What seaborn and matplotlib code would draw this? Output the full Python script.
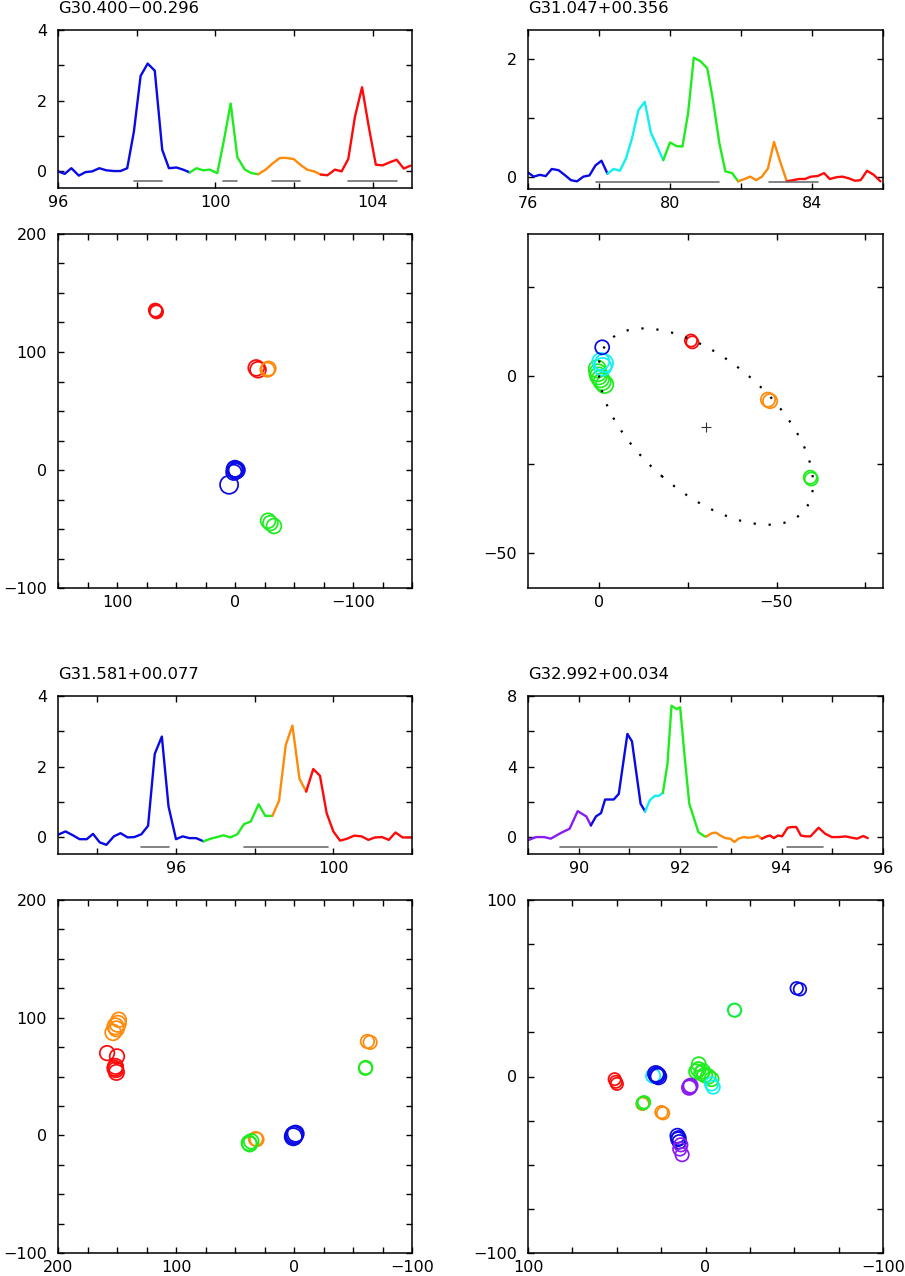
import matplotlib
matplotlib.use("Agg")
import numpy as np
import pandas as pd
import matplotlib.pyplot as plt
import seaborn as sns
from matplotlib.patches import Ellipse
from matplotlib.ticker import MultipleLocator

# ---------------- colours of the velocity components ----------------
COLORS = {'purple': '#8a1cf0', 'blue': '#0a0ae6', 'cyan': '#10f0f0',
          'green': '#1eec1e', 'orange': '#ff8a0a', 'red': '#ff0a0a'}

# ---------------- G30.400-00.296 ----------------
A_NAME = 'G30.400\u221200.296'
A_BLUE_V = [96.00, 96.17, 96.34, 96.53, 96.70, 96.87, 97.05, 97.23, 97.42, 97.59,
            97.76, 97.93, 98.10, 98.28, 98.46, 98.65, 98.82, 99.01, 99.18, 99.35]
A_BLUE_T = [0.00, -0.07, 0.09, -0.12, -0.02, 0.00, 0.09, 0.03, 0.01, 0.01,
            0.09, 1.13, 2.70, 3.05, 2.85, 0.61, 0.09, 0.11, 0.05, -0.03]
A_GREEN_V = [99.35, 99.52, 99.69, 99.86, 100.05, 100.22, 100.39, 100.56, 100.75, 100.92, 101.09]
A_GREEN_T = [-0.03, 0.09, 0.03, 0.05, -0.05, 0.89, 1.92, 0.40, 0.05, -0.05, -0.08]
A_ORANGE_V = [101.09, 101.28, 101.45, 101.64, 101.81, 101.99, 102.16, 102.33, 102.51, 102.68]
A_ORANGE_T = [-0.08, 0.05, 0.22, 0.38, 0.38, 0.35, 0.19, 0.05, 0.00, -0.09]
A_RED_V = [102.68, 102.85, 103.04, 103.21, 103.38, 103.55, 103.73, 103.90, 104.08,
           104.25, 104.44, 104.61, 104.79, 104.96]
A_RED_T = [-0.09, -0.11, 0.05, 0.00, 0.35, 1.55, 2.38, 1.27, 0.19, 0.17, 0.26, 0.33, 0.08, 0.16]
A_BARS = [(97.93, 98.65), (100.20, 100.56), (101.45, 102.16), (103.38, 104.61)]

A_SPOT_X = [67.5, 66.5, 67.0, -18.0, -19.5, -28.5, -27.5, 0.0, -1.5, -0.5, 0.5, 1.0, 5.0, -28.0, -30.0, -33.0]
A_SPOT_Y = [135.5, 134.0, 134.8, 86.5, 85.0, 86.0, 85.0, 1.0, 0.0, -1.0, 0.5, -2.0, -12.5, -43.0, -45.0, -47.5]
A_SPOT_C = ['red', 'red', 'red', 'red', 'red', 'orange', 'orange', 'blue', 'blue', 'blue', 'blue',
            'blue', 'blue', 'green', 'green', 'green']
A_SPOT_F = [1.0, 1.0, 0.9, 2.0, 2.0, 1.4, 1.4, 2.2, 2.2, 2.0, 2.0, 1.8, 3.0, 1.6, 1.6, 1.6]

# ---------------- G31.047+00.356 ----------------
B_NAME = 'G31.047+00.356'
B_BLUE_V = [76.00, 76.16, 76.33, 76.50, 76.67, 76.86, 77.03, 77.21, 77.38, 77.56, 77.73, 77.90, 78.07, 78.24]
B_BLUE_T = [0.08, 0.01, 0.04, 0.02, 0.14, 0.12, 0.04, -0.05, -0.07, 0.01, 0.03, 0.20, 0.28, 0.06]
B_CYAN_V = [78.24, 78.41, 78.59, 78.76, 78.93, 79.11, 79.29, 79.46, 79.64, 79.81]
B_CYAN_T = [0.06, 0.14, 0.11, 0.32, 0.66, 1.14, 1.28, 0.76, 0.52, 0.29]
B_GREEN_V = [79.81, 80.00, 80.18, 80.35, 80.51, 80.67, 80.86, 81.05, 81.21, 81.39, 81.56, 81.75, 81.92]
B_GREEN_T = [0.29, 0.59, 0.53, 0.52, 1.09, 2.03, 1.97, 1.85, 1.31, 0.58, 0.10, 0.07, -0.07]
B_ORANGE_V = [81.92, 82.10, 82.26, 82.43, 82.59, 82.76, 82.93, 83.10, 83.29]
B_ORANGE_T = [-0.07, -0.03, 0.01, -0.05, 0.01, 0.15, 0.60, 0.27, -0.07]
B_RED_V = [83.29, 83.46, 83.64, 83.80, 83.97, 84.16, 84.34, 84.50, 84.69, 84.86,
           85.04, 85.21, 85.37, 85.55, 85.74, 85.93]
B_RED_T = [-0.07, -0.05, -0.03, -0.03, 0.01, 0.02, 0.07, -0.03, 0.00, 0.01,
           -0.02, -0.06, -0.05, 0.11, 0.04, -0.07]
B_BARS = [(77.92, 81.37), (82.78, 84.16)]

B_SPOT_X = [-25.9, -26.3, 0.5, 0.3, 0.1, -0.4, -0.9, -1.6, -1.4, -1.0, -0.5, -0.9,
            -47.6, -48.2, -59.5, -59.8]
B_SPOT_Y = [9.9, 9.4, 1.9, 0.8, -0.1, -0.9, -1.7, -2.5, 3.5, 2.5, 4.0, 8.0,
            -6.8, -7.2, -28.7, -29.2]
B_SPOT_C = ['red', 'red', 'green', 'green', 'green', 'green', 'green', 'green',
            'cyan', 'cyan', 'cyan', 'blue', 'orange', 'orange', 'green', 'green']
B_SPOT_F = [0.7, 0.7, 2.6, 2.6, 2.6, 2.6, 2.6, 2.6, 3.0, 2.8, 2.5, 1.3, 1.4, 1.4, 1.0, 1.0]
# fitted ring: centre, full axes and position angle
B_RING_CENTER = (-30.1, -14.4)
B_RING_MAJOR = 73.0
B_RING_MINOR = 37.4
B_RING_ANGLE = 40.8

# ---------------- G31.581+00.077 ----------------
C_NAME = 'G31.581+00.077'
C_BLUE_V = [93.01, 93.19, 93.38, 93.55, 93.73, 93.89, 94.06, 94.23, 94.42, 94.59, 94.77,
            94.94, 95.12, 95.29, 95.46, 95.64, 95.81, 96.00, 96.17, 96.34, 96.51, 96.70]
C_BLUE_T = [0.07, 0.16, 0.05, -0.06, -0.06, 0.09, -0.15, -0.22, 0.02, 0.11, -0.01,
            0.00, 0.08, 0.32, 2.36, 2.85, 0.87, -0.06, 0.02, -0.03, -0.03, -0.12]
C_GREEN_V = [96.70, 96.87, 97.04, 97.21, 97.38, 97.56, 97.73, 97.90, 98.10, 98.27, 98.45]
C_GREEN_T = [-0.12, -0.05, 0.00, 0.05, -0.01, 0.08, 0.37, 0.44, 0.93, 0.60, 0.60]
C_ORANGE_V = [98.45, 98.62, 98.79, 98.96, 99.14, 99.31]
C_ORANGE_T = [0.60, 1.03, 2.61, 3.16, 1.65, 1.29]
C_RED_V = [99.31, 99.49, 99.66, 99.83, 100.00, 100.17, 100.34, 100.53, 100.72, 100.89,
           101.06, 101.24, 101.41, 101.58, 101.76, 102.00]
C_RED_T = [1.29, 1.93, 1.74, 0.68, 0.16, -0.10, -0.05, 0.04, 0.02, -0.08,
           -0.01, 0.00, -0.08, 0.13, -0.01, -0.01]
C_BARS = [(95.12, 95.81), (97.74, 99.86)]

C_SPOT_X = [148.5, 149.4, 151.3, 153.3, 150.5, 158.4, 150.0, 151.3, 151.0, 150.5, 151.8,
            -62.2, -64.5, -60.8, -60.5, 32.5, 31.5, 38.2, 36.2, 37.5, 0.0, -1.4, 0.6, -0.5]
C_SPOT_Y = [98.2, 94.8, 92.6, 87.5, 90.5, 69.9, 67.1, 58.6, 55.8, 53.5, 57.0,
            79.8, 79.0, 57.7, 57.0, -3.0, -3.5, -6.5, -5.1, -7.5, 0.0, 1.4, -1.2, 0.5]
C_SPOT_C = ['orange'] * 5 + ['red'] * 6 + ['orange', 'orange', 'green', 'green',
                                          'orange', 'orange', 'green', 'green', 'green',
                                          'blue', 'blue', 'blue', 'blue']
C_SPOT_F = [1.6, 2.2, 2.2, 2.0, 1.8, 1.5, 1.5, 1.8, 1.8, 1.8, 1.8,
            1.1, 1.1, 1.1, 1.1, 1.3, 1.2, 1.6, 1.6, 1.6, 2.8, 2.2, 2.6, 2.4]

# ---------------- G32.992+00.034 ----------------
D_NAME = 'G32.992+00.034'
D_PURPLE_V = [88.99, 89.16, 89.32, 89.45, 89.56, 89.68, 89.82, 89.98, 90.15, 90.24]
D_PURPLE_T = [-0.19, 0.00, 0.00, -0.09, 0.09, 0.28, 0.47, 1.47, 1.17, 0.66]
D_BLUE_V = [90.24, 90.34, 90.44, 90.52, 90.69, 90.79, 90.96, 91.05, 91.22, 91.31]
D_BLUE_T = [0.66, 1.17, 1.36, 2.13, 2.13, 2.45, 5.85, 5.43, 1.89, 1.45]
D_CYAN_V = [91.31, 91.40, 91.50, 91.58, 91.66]
D_CYAN_T = [1.45, 2.08, 2.34, 2.34, 2.51]
D_GREEN_V = [91.66, 91.75, 91.83, 91.93, 92.00, 92.09, 92.18, 92.36, 92.48, 92.52]
D_GREEN_T = [2.51, 4.15, 7.45, 7.26, 7.36, 4.53, 1.89, 0.28, 0.04, 0.04]
D_ORANGE_V = [92.52, 92.63, 92.71, 92.79, 92.89, 92.99, 93.07, 93.15, 93.25, 93.35, 93.45, 93.53, 93.61]
D_ORANGE_T = [0.04, 0.23, 0.25, 0.09, -0.06, -0.09, -0.28, -0.09, 0.00, -0.04, 0.00, 0.08, -0.09]
D_RED_V = [93.61, 93.71, 93.77, 93.85, 93.93, 94.01, 94.12, 94.20, 94.29, 94.38, 94.47,
           94.57, 94.73, 94.86, 94.99, 95.13, 95.26, 95.39, 95.49, 95.61, 95.70]
D_RED_T = [-0.09, 0.04, 0.09, -0.06, 0.09, 0.04, 0.53, 0.57, 0.57, 0.09, 0.04,
           0.04, 0.53, 0.19, 0.00, 0.00, 0.04, -0.04, -0.09, 0.06, -0.06]
D_BARS = [(89.64, 92.72), (94.11, 94.82)]

D_SPOT_X = [51.2, 49.9, 50.5, -51.4, -53.2, -16.2, -16.5, 29.5, 27.1, 28.0, 26.5, 27.5,
            35.5, 35.2, 34.6, 24.8, 23.9,
            3.8, 5.1, 2.3, 0.4, -1.5, -3.4, 4.0, 1.5, -4.3, -3.4,
            8.8, 9.2, 8.4, 15.8, 15.1, 15.5, 14.8, 13.9, 14.5, 13.2]
D_SPOT_Y = [-1.5, -4.2, -3.0, 50.0, 49.4, 37.7, 37.5, 0.4, 0.9, 1.5, 0.0, 0.5,
            -15.5, -15.1, -14.6, -20.2, -20.8,
            7.0, 2.8, 1.9, 0.9, 0.0, -1.5, 4.0, 3.0, -6.0, -4.2,
            -5.7, -6.3, -5.2, -33.6, -34.9, -35.5, -37.0, -38.7, -41.1, -44.3]
D_SPOT_C = ['red', 'red', 'red', 'blue', 'blue', 'cyan', 'green', 'cyan', 'blue', 'blue', 'blue', 'blue',
            'orange', 'green', 'green', 'orange', 'orange',
            'green', 'green', 'green', 'green', 'green', 'green', 'green', 'green', 'cyan', 'cyan',
            'purple', 'purple', 'purple', 'blue', 'blue', 'blue', 'blue', 'purple', 'purple', 'purple']
D_SPOT_F = [0.7, 0.7, 0.7, 0.8, 0.8, 1.0, 1.0, 1.4, 2.0, 2.0, 2.0, 1.8,
            0.8, 0.9, 0.8, 0.8, 0.8,
            1.3, 1.6, 1.6, 1.6, 1.6, 1.4, 1.6, 1.5, 1.1, 1.1,
            1.5, 1.5, 1.4, 1.4, 1.4, 1.3, 1.2, 1.1, 1.1, 1.1]

sns.set_style("ticks")
plt.rcParams['font.family'] = ['DejaVu Sans']
plt.rcParams['font.size'] = 11.5
plt.rcParams['text.color'] = 'black'
plt.rcParams['axes.titlecolor'] = 'black'

W, H = 905, 1276
fig = plt.figure(figsize=(W / 100, H / 100), dpi=100)


def box(left, top, right, bottom):
    return fig.add_axes([left / W, 1 - bottom / H, (right - left) / W, (bottom - top) / H])


def frame(ax, xmaj, xmin, ymaj, ymin):
    ax.xaxis.set_major_locator(MultipleLocator(xmaj))
    ax.xaxis.set_minor_locator(MultipleLocator(xmin))
    ax.yaxis.set_major_locator(MultipleLocator(ymaj))
    ax.yaxis.set_minor_locator(MultipleLocator(ymin))
    ax.tick_params(which='both', direction='in', top=True, right=True,
                   length=4.5, width=1.0, colors='black', labelsize=11.5)
    ax.tick_params(axis='x', pad=5)
    ax.tick_params(axis='y', pad=8)
    for s in ax.spines.values():
        s.set_linewidth(1.1)
        s.set_color('black')
    ax.set_xlabel('')
    ax.set_ylabel('')


def spectrum(ax, name, segments, bars, xlim, ylim, ticks):
    rows = []
    for comp, v, t in segments:
        for vi, ti in zip(v, t):
            rows.append((comp, vi, ti))
    df = pd.DataFrame(rows, columns=['comp', 'v', 'T'])
    pal = {c: COLORS[c] for c in df['comp'].unique()}
    sns.lineplot(data=df, x='v', y='T', hue='comp', palette=pal, estimator=None,
                 sort=False, legend=False, linewidth=1.7, ax=ax)
    trans = ax.get_xaxis_transform()
    for lo, hi in bars:
        ax.plot([lo, hi], [0.045, 0.045], transform=trans, color='#6e6e6e', lw=1.2)
    ax.set_xlim(*xlim)
    ax.set_ylim(*ylim)
    frame(ax, *ticks)
    ax.set_title(name, loc='left', pad=12, fontsize=11.8, color='black')


def spots(ax, x, y, comp, flux, xlim, ylim, ticks):
    df = pd.DataFrame({'x': x, 'y': y, 'comp': comp, 'flux': flux})
    pal = {c: COLORS[c] for c in df['comp'].unique()}
    sns.scatterplot(data=df, x='x', y='y', hue='comp', palette=pal, size='flux',
                    sizes=(50, 210), size_norm=(0, 4), legend=False, ax=ax)
    coll = ax.collections[-1]
    ec = coll.get_facecolors()
    coll.set_facecolors('none')
    coll.set_edgecolors(ec)
    coll.set_linewidths(1.25)
    ax.set_xlim(*xlim)
    ax.set_ylim(*ylim)
    frame(ax, *ticks)


# top-left source
ax = box(58, 30, 412, 188)
spectrum(ax, A_NAME,
         [('blue', A_BLUE_V, A_BLUE_T), ('green', A_GREEN_V, A_GREEN_T),
          ('orange', A_ORANGE_V, A_ORANGE_T), ('red', A_RED_V, A_RED_T)],
         A_BARS, (96, 105), (-0.47, 4), (4, 2, 2, 1))
ax = box(58, 234, 412, 588)
spots(ax, A_SPOT_X, A_SPOT_Y, A_SPOT_C, A_SPOT_F, (150, -150), (-100, 200), (100, 25, 100, 25))

# top-right source
ax = box(528, 30, 883, 189)
spectrum(ax, B_NAME,
         [('blue', B_BLUE_V, B_BLUE_T), ('cyan', B_CYAN_V, B_CYAN_T),
          ('green', B_GREEN_V, B_GREEN_T), ('orange', B_ORANGE_V, B_ORANGE_T),
          ('red', B_RED_V, B_RED_T)],
         B_BARS, (76, 86), (-0.2, 2.5), (4, 2, 2, 1))
ax = box(528, 234, 883, 588)
spots(ax, B_SPOT_X, B_SPOT_Y, B_SPOT_C, B_SPOT_F, (20, -80), (-60, 40), (50, 25, 50, 25))
ax.add_patch(Ellipse(B_RING_CENTER, B_RING_MAJOR, B_RING_MINOR, angle=B_RING_ANGLE,
                     fill=False, color='black', lw=1.6, ls=(0, (1, 5.75)), zorder=5))
ax.plot(*B_RING_CENTER, marker='+', color='#333333', ms=7, mew=0.8, zorder=5)

# bottom-left source
ax = box(58, 696, 412, 854)
spectrum(ax, C_NAME,
         [('blue', C_BLUE_V, C_BLUE_T), ('green', C_GREEN_V, C_GREEN_T),
          ('orange', C_ORANGE_V, C_ORANGE_T), ('red', C_RED_V, C_RED_T)],
         C_BARS, (93, 102), (-0.48, 4), (4, 2, 2, 1))
ax = box(58, 900, 412, 1253)
spots(ax, C_SPOT_X, C_SPOT_Y, C_SPOT_C, C_SPOT_F, (200, -100), (-100, 200), (100, 25, 100, 25))

# bottom-right source
ax = box(528, 696, 883, 854)
spectrum(ax, D_NAME,
         [('purple', D_PURPLE_V, D_PURPLE_T), ('blue', D_BLUE_V, D_BLUE_T),
          ('cyan', D_CYAN_V, D_CYAN_T), ('green', D_GREEN_V, D_GREEN_T),
          ('orange', D_ORANGE_V, D_ORANGE_T), ('red', D_RED_V, D_RED_T)],
         D_BARS, (89, 96), (-0.96, 8), (2, 1, 4, 2))
ax = box(528, 900, 883, 1253)
spots(ax, D_SPOT_X, D_SPOT_Y, D_SPOT_C, D_SPOT_F, (100, -100), (-100, 100), (100, 25, 100, 25))

fig.savefig('out.png', dpi=100, facecolor='white')
